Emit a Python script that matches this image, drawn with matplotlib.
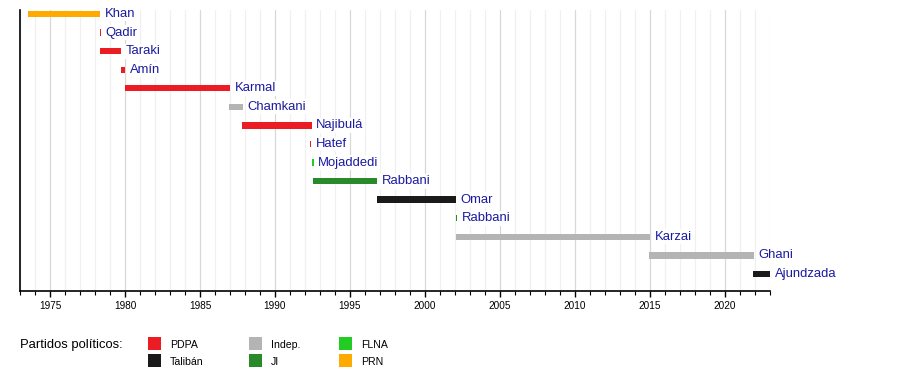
import matplotlib
matplotlib.use("Agg")
import matplotlib.pyplot as plt
from matplotlib.patches import Rectangle

plt.rcParams['font.family'] = ['Liberation Sans', 'DejaVu Sans']

# ---- data ----
leaders = ["Khan", "Qadir", "Taraki", "Amín", "Karmal", "Chamkani", "Najibulá",
           "Hatef", "Mojaddedi", "Rabbani", "Omar", "Rabbani", "Karzai", "Ghani",
           "Ajundzada"]
starts = [1973.54, 1978.33, 1978.34, 1979.73, 1980.00, 1986.95, 1987.80,
          1992.36, 1992.44, 1992.53, 1996.82, 2002.07, 2002.07, 2014.93, 2021.89]
ends = [1978.33, 1978.40, 1979.73, 1980.00, 1987.00, 1987.85, 1992.45,
        1992.43, 1992.57, 1996.82, 2002.07, 2002.16, 2015.00, 2021.93, 2023.00]
parties = ["PRN", "PDPA", "PDPA", "PDPA", "PDPA", "Indep.", "PDPA",
           "PDPA", "FLNA", "JI", "Talibán", "JI", "Indep.", "Indep.", "Talibán"]

party_names = ["PDPA", "Talibán", "Indep.", "JI", "FLNA", "PRN"]
party_colors = ["#ec1c24", "#1a1a1a", "#b4b4b4", "#2a8a2a", "#22cc22", "#ffaa00"]
color_of = dict(zip(party_names, party_colors))

x_min, x_max = 1973, 2023
major_years = list(range(1975, 2021, 5))
minor_years = list(range(1973, 2024))

# ---- figure ----
W, H = 900, 370
fig = plt.figure(figsize=(W / 100, H / 100), dpi=100)
ax_l, ax_r, ax_t, ax_b = 20, 770, 10, 291
ax = fig.add_axes([ax_l / W, 1 - ax_b / H, (ax_r - ax_l) / W, (ax_b - ax_t) / H])

n = len(leaders)
ax.set_xlim(x_min, x_max)
ax.set_ylim(14.92, -0.215)

# grid
for yr in minor_years:
    if yr in major_years:
        continue
    ax.axvline(yr, color="#f0f0f0", lw=0.9, zorder=0)
for yr in major_years:
    ax.axvline(yr, color="#d8d8d8", lw=0.9, zorder=0)

# bars + labels
for i, (name, s, e, p) in enumerate(zip(leaders, starts, ends, parties)):
    ax.barh(i, e - s, left=s, height=0.34, color=color_of[p], zorder=2,
            linewidth=0)
    ax.text(e + 0.3, i, name, va="center", ha="left", fontsize=9.4,
            color="#1a1aa0", zorder=3,
            bbox=dict(facecolor="white", edgecolor="none", pad=1.0))

# axes styling
for side in ["top", "right"]:
    ax.spines[side].set_visible(False)
ax.spines["left"].set_linewidth(1.2)
ax.spines["bottom"].set_linewidth(1.2)
ax.set_yticks([])
ax.set_xticks(major_years)
ax.set_xticklabels([str(y) for y in major_years], fontsize=7.2)
ax.set_xticks(minor_years, minor=True)
ax.tick_params(axis="x", which="major", direction="out", length=4, width=1, pad=3)
ax.tick_params(axis="x", which="minor", direction="out", length=3, width=0.8)

# ---- legend ----
fig.text(20 / W, 1 - 345 / H, "Partidos políticos:", fontsize=9.4,
         va="center", ha="left")
legend_cols = [148, 249, 339]
legend_rows = [343.5, 360.5]
for k, (pname, pcol) in enumerate(zip(party_names, party_colors)):
    col = k // 2
    row = k % 2
    x0 = legend_cols[col]
    yc = legend_rows[row]
    fig.patches.append(Rectangle((x0 / W, 1 - (yc + 6.5) / H), 13 / W, 13 / H,
                                 transform=fig.transFigure, facecolor=pcol,
                                 edgecolor="none"))
    fig.text((x0 + 22) / W, 1 - (yc + 1.5) / H, pname, fontsize=7.6,
             va="center", ha="left")

fig.savefig("out.png", dpi=100, facecolor="white")
